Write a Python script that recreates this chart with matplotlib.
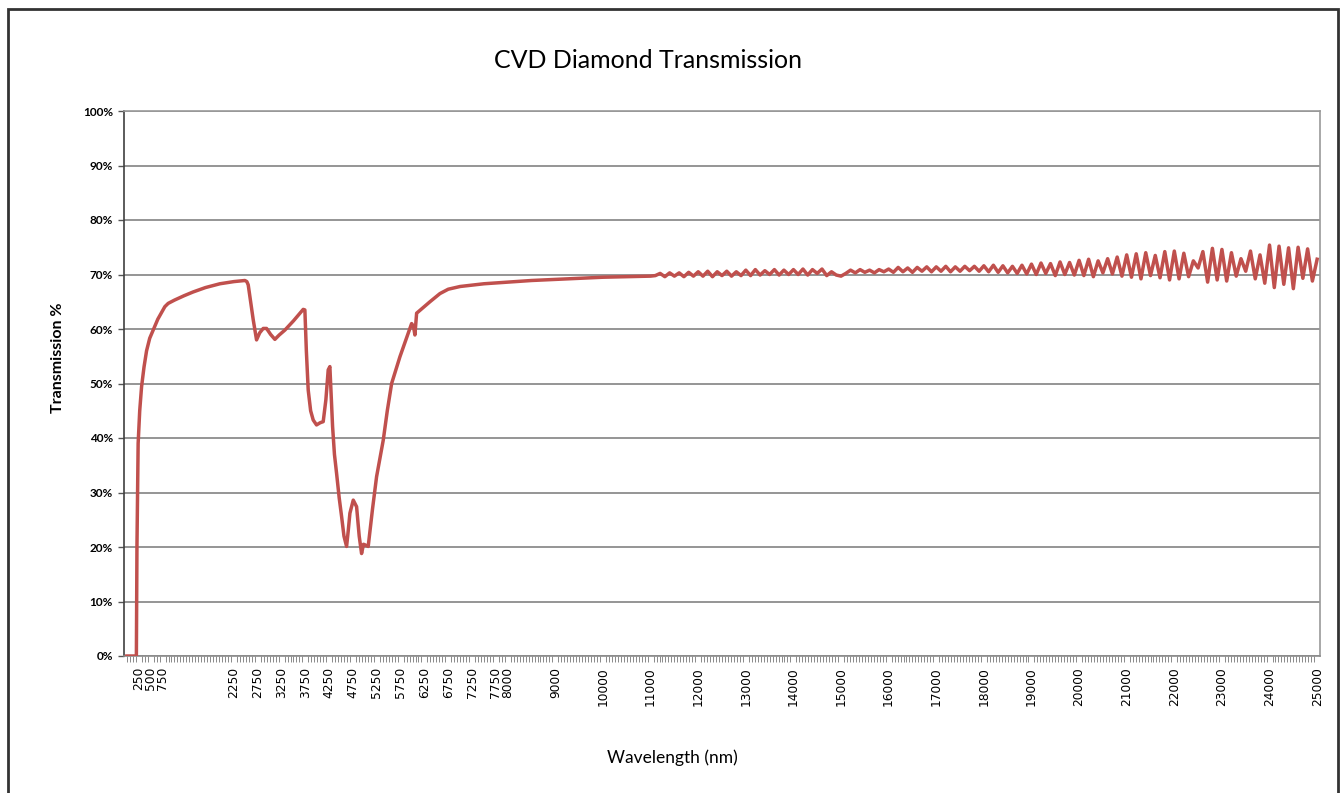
import numpy as np
import matplotlib
matplotlib.use("Agg")
import matplotlib.pyplot as plt
from matplotlib.patches import Rectangle
from matplotlib.ticker import MultipleLocator, PercentFormatter

# absorption region (nm, %)
wl_main = [0, 200, 212, 237, 270, 309, 360, 414, 480, 553, 650, 798, 868, 1000,
           1200, 1393, 1650, 1954, 2250, 2479, 2520, 2549, 2600, 2654, 2724,
           2790, 2864, 2934, 3020, 3109, 3200, 3319, 3500, 3704, 3739, 3770,
           3809, 3860, 3914, 3984, 4060, 4124, 4180, 4229, 4264, 4290, 4321,
           4360, 4405, 4460, 4510, 4560, 4615, 4650, 4685, 4755, 4825, 4880,
           4930, 4970, 5000, 5069, 5160, 5245, 5385, 5470, 5561, 5735, 5860,
           5981, 6020, 6050, 6086, 6366, 6576, 6750, 7000, 7500, 8000, 8500,
           9000, 10000, 11000, 11100]
t_main = [0, 0, 20, 39, 45, 49.4, 53, 56, 58.3, 59.8, 61.8, 64.1, 64.7, 65.3,
          66.1, 66.8, 67.6, 68.3, 68.7, 68.9, 68.7, 68.1, 65, 61.7, 58.0,
          59.3, 60.1, 60.1, 59.0, 58.1, 58.9, 59.8, 61.5, 63.6, 63.5, 56,
          48.8, 45, 43.3, 42.4, 42.8, 43.0, 47, 52.5, 53.1, 48, 42.1,
          37, 33.5, 29, 25.6, 22, 20.1, 23, 26.2, 28.6, 27.4, 22,
          18.8, 20.5, 20.4, 20.1, 27, 32.9, 39.6, 45, 50.0, 54.9, 58,
          61.0, 60.5, 58.9, 62.9, 65.0, 66.5, 67.3, 67.8, 68.3, 68.6, 68.9,
          69.1, 69.5, 69.7, 69.8]

# fringe region, read every 100 nm from 11200 to 25000
wl_fringe = [
    11200, 11300, 11400, 11500, 11600, 11700, 11800, 11900,
    12000, 12100, 12200, 12300, 12400, 12500, 12600, 12700, 12800, 12900,
    13000, 13100, 13200, 13300, 13400, 13500, 13600, 13700, 13800, 13900,
    14000, 14100, 14200, 14300, 14400, 14500, 14600, 14700, 14800, 14900,
    15000, 15100, 15200, 15300, 15400, 15500, 15600, 15700, 15800, 15900,
    16000, 16100, 16200, 16300, 16400, 16500, 16600, 16700, 16800, 16900,
    17000, 17100, 17200, 17300, 17400, 17500, 17600, 17700, 17800, 17900,
    18000, 18100, 18200, 18300, 18400, 18500, 18600, 18700, 18800, 18900,
    19000, 19100, 19200, 19300, 19400, 19500, 19600, 19700, 19800, 19900,
    20000, 20100, 20200, 20300, 20400, 20500, 20600, 20700, 20800, 20900,
    21000, 21100, 21200, 21300, 21400, 21500, 21600, 21700, 21800, 21900,
    22000, 22100, 22200, 22300, 22400, 22500, 22600, 22700, 22800, 22900,
    23000, 23100, 23200, 23300, 23400, 23500, 23600, 23700, 23800, 23900,
    24000, 24100, 24200, 24300, 24400, 24500, 24600, 24700, 24800, 24900,
    25000]
t_fringe = [
    70.2, 69.6, 70.3, 69.7, 70.3, 69.6, 70.4, 69.7,
    70.5, 69.7, 70.6, 69.6, 70.5, 69.8, 70.6, 69.7, 70.5, 69.8,
    70.8, 69.8, 70.9, 69.9, 70.7, 70.0, 70.9, 69.9, 70.8, 70.0,
    70.9, 70.0, 71.0, 69.9, 70.9, 70.2, 71.0, 69.8, 70.5, 69.9,
    69.7, 70.2, 70.8, 70.3, 70.9, 70.4, 70.8, 70.3, 70.9, 70.5,
    71.0, 70.4, 71.3, 70.5, 71.2, 70.4, 71.3, 70.6, 71.4, 70.5,
    71.4, 70.6, 71.5, 70.5, 71.4, 70.6, 71.5, 70.7, 71.5, 70.6,
    71.6, 70.5, 71.7, 70.4, 71.6, 70.3, 71.5, 70.2, 71.7, 70.1,
    71.9, 70.0, 72.1, 70.2, 72.0, 69.8, 72.3, 70.0, 72.2, 69.9,
    72.6, 69.8, 72.8, 69.6, 72.5, 70.3, 72.9, 70.1, 73.2, 69.7,
    73.6, 69.5, 73.8, 69.2, 74.0, 69.8, 73.5, 69.4, 74.2, 69.0,
    74.3, 69.2, 73.9, 69.6, 72.5, 71.2, 74.2, 68.6, 74.8, 69.0,
    74.6, 68.8, 74.0, 69.7, 72.9, 70.6, 74.3, 69.2, 73.6, 68.4,
    75.4, 67.6, 75.2, 68.2, 74.9, 67.4, 75.0, 69.3, 74.7, 68.8,
    72.8]

tick_labels = [250, 500, 750, 2250, 2750, 3250, 3750, 4250, 4750, 5250, 5750,
               6250, 6750, 7250, 7750, 8000, 9000, 10000, 11000, 12000, 13000,
               14000, 15000, 16000, 17000, 18000, 19000, 20000, 21000, 22000,
               23000, 24000, 25000]

sans = ["Lato", "DejaVu Sans"]

wl = np.array(wl_main + wl_fringe)
trans = np.array(t_main + t_fringe)

fig = plt.figure(figsize=(13.44, 7.93), dpi=100)
ax = fig.add_axes([124 / 1344, 1 - 656 / 793, (1320 - 124) / 1344, (656 - 111) / 793])

ax.plot(wl, trans, color="#C0504D", lw=2.5, solid_joinstyle="round", zorder=3)

ax.set_xlim(-60, 25060)
ax.set_ylim(0, 100)
ax.yaxis.set_major_locator(MultipleLocator(10))
ax.yaxis.set_major_formatter(PercentFormatter(decimals=0))
ax.grid(axis="y", color="#8c8c8c", lw=1.3)
ax.set_axisbelow(True)

ax.set_xticks(tick_labels)
ax.set_xticklabels([str(t) for t in tick_labels], rotation=90, fontsize=8.8,
                   family="DejaVu Sans")
ax.xaxis.set_minor_locator(MultipleLocator(62.5))
ax.tick_params(axis="x", which="major", length=0, pad=8)
ax.tick_params(axis="x", which="minor", length=4, color="#777777", width=0.6)
ax.tick_params(axis="y", length=4, color="#555555", width=1, pad=4)
for lab in ax.get_yticklabels():
    lab.set_fontfamily(sans)
    lab.set_fontweight("bold")
    lab.set_fontsize(8.5)

for side in ["top", "right"]:
    ax.spines[side].set_color("#9a9a9a")
    ax.spines[side].set_linewidth(1.2)
ax.spines["left"].set_color("#404040")
ax.spines["left"].set_linewidth(1.2)
ax.spines["bottom"].set_color("#8c8c8c")
ax.spines["bottom"].set_linewidth(1.2)

fig.text(0.482, 1 - 60 / 793, "CVD Diamond Transmission", ha="center", va="center",
         fontsize=18, family=sans)
fig.text(0.5, 1 - 758 / 793, "Wavelength (nm)", ha="center", va="center",
         fontsize=12.5, family=sans)
fig.text(58 / 1344, 1 - 358 / 793, "Transmission %", ha="center", va="center",
         rotation=90, fontsize=11.5, fontweight="bold", family=sans)

# outer chart frame
fig.patches.append(Rectangle((8 / 1344, -0.02), (1338 - 8) / 1344, 1.02 - 9 / 793,
                             transform=fig.transFigure, fill=False,
                             ec="#333333", lw=2))

fig.savefig("out.png", dpi=100)
